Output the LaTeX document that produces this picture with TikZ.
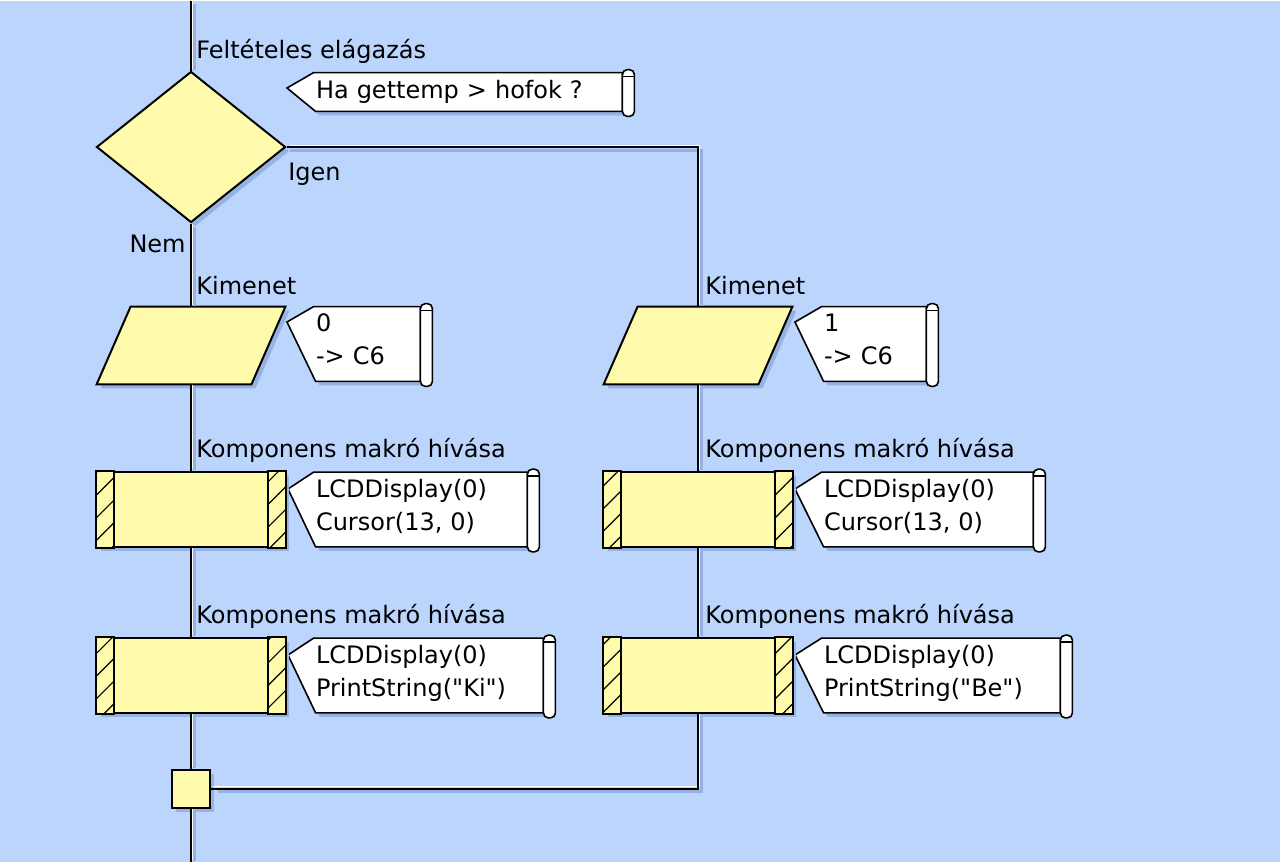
\documentclass[tikz,border=0pt]{standalone}
\usepackage{fontspec}
\setmainfont{DejaVu Sans}[Ligatures=TeXOff]
\usetikzlibrary{shapes.geometric, shadows, patterns.meta}

\definecolor{bgblue}{RGB}{187,213,253}
\definecolor{shadeblue}{RGB}{150,178,228}
\definecolor{boxyellow}{RGB}{255,250,172}

\pgfdeclarelayer{back}
\pgfdeclarelayer{mid}
\pgfsetlayers{back,mid,main}

\begin{document}
\begin{tikzpicture}[x=0.5pt, y=-0.5pt,
    every node/.style={font=\fontsize{12}{16.5}\selectfont, inner sep=0pt},
    shade/.style={drop shadow={shadow xshift=2pt, shadow yshift=-2pt, fill=shadeblue, opacity=1}},
    flowbox/.style={draw, line width=1pt, fill=boxyellow, shade},
    outbox/.style={rectangle, minimum width=77pt, minimum height=38.5pt},
    macbox/.style={flowbox, rectangle, minimum width=94pt, minimum height=37.5pt},
    hatch/.style={draw, line width=1pt, pattern={Lines[angle=45, distance=8pt, line width=0.6pt]},
        preaction={fill=boxyellow}},
    memo/.style={text width=#1, align=left, inner xsep=2pt, minimum height=37pt,
        execute at end node={\rule[-4.5pt]{0pt}{0pt}}},
    wire/.style={line width=1pt,
        preaction={draw=shadeblue, line width=1.5pt, shorten >=1.8pt, transform canvas={shift={(1.5pt,-1.5pt)}}},
        preaction={draw=white, line width=0.6pt, shorten <=1pt, transform canvas={shift={(0.9pt,0.9pt)}}}}]

        % Background
        \begin{pgfonlayer}{back}
          \fill[bgblue] (0,0) rectangle (1280,861);
        \end{pgfonlayer}

        % Decision
        \coordinate (top) at (191,0);
        \coordinate (bot) at (191,861);
        \node[flowbox, diamond, minimum width=94.5pt, minimum height=75.5pt] (dia) at (191,146) {};

        % Left branch (Nem)
        \node[outbox] (out1) at (191,344.5) {};
        \node[macbox] (mac1) at (191,508.5) {};
        \node[macbox] (mac2) at (191,674.5) {};

        % Right branch (Igen)
        \node[outbox] (out2) at (698,344.5) {};
        \node[macbox] (mac3) at (698,508.5) {};
        \node[macbox] (mac4) at (698,674.5) {};

        % Junction
        \node[flowbox, rectangle, minimum size=19pt] (jn) at (191,787.5) {};

        % Slanted outline of the output boxes
        \foreach \o in {out1,out2}
        {
          \draw[flowbox] ([xshift=-8.5pt]\o.south west) -- ([xshift=-8.5pt]\o.south east)
            -- ([xshift=8.5pt]\o.north east) -- ([xshift=8.5pt]\o.north west) -- cycle;
        }

        % Hatched side bars of the macro boxes
        \foreach \m in {mac1,mac2,mac3,mac4}
        {
          \draw[hatch] (\m.north west) rectangle ([xshift=9pt]\m.south west);
          \draw[hatch] (\m.north east) rectangle ([xshift=-9pt]\m.south east);
        }

        % Labels
        \node[anchor=west] (lbl-dia) at (196,50) {Feltételes elágazás};
        \node[anchor=west] (lbl-igen) at (288,173) {Igen};
        \node[anchor=east] (lbl-nem) at (186,243) {Nem};
        \node[anchor=west] (lbl-out1) at (196,285) {Kimenet};
        \node[anchor=west] (lbl-out2) at (705,285) {Kimenet};
        \node[anchor=west] (lbl-mac1) at (196,449) {Komponens makró hívása};
        \node[anchor=west] (lbl-mac2) at (196,615) {Komponens makró hívása};
        \node[anchor=west] (lbl-mac3) at (705,449) {Komponens makró hívása};
        \node[anchor=west] (lbl-mac4) at (705,615) {Komponens makró hívása};

        % Comment texts
        \node[text width=151pt, align=left, inner xsep=2pt, minimum height=19pt] (ch) at (467,91) {Ha gettemp > hofok ?};
        \node[memo=50pt] (c0) at (366,343) {0\\-> C6};
        \node[memo=49pt] (c1) at (873,343) {1\\-> C6};
        \node[memo=103.5pt] (cc1) at (419.5,508.5) {LCDDisplay(0)\\Cursor(13, 0)};
        \node[memo=111.5pt] (cp1) at (427.5,674.5) {LCDDisplay(0)\\PrintString("Ki")};
        \node[memo=102.5pt] (cc2) at (926.5,508.5) {LCDDisplay(0)\\Cursor(13, 0)};
        \node[memo=116pt] (cp2) at (940,674.5) {LCDDisplay(0)\\PrintString("Be")};

        % Comment pointers
        \coordinate (ch-tip) at (287,87);
        \coordinate (c0-tip) at (287,321);
        \coordinate (c1-tip) at (795,321);
        \coordinate (cc1-tip) at (288,488);
        \coordinate (cp1-tip) at (288,654);
        \coordinate (cc2-tip) at (795,488);
        \coordinate (cp2-tip) at (795,654);

        % Comment frames with scroll ends
        \begin{pgfonlayer}{mid}
          \foreach \c in {ch,c0,c1,cc1,cp1,cc2,cp2}
          {
            \draw[line width=0.8pt, fill=white, shade] (\c-tip) -- ([xshift=1pt]\c.north west) -- (\c.north east)
              -- (\c.south east) -- ([xshift=2pt]\c.south west) -- cycle;
            \draw[line width=0.8pt, fill=white, rounded corners=2.5pt]
              ([yshift=1.5pt]\c.north east) rectangle ([xshift=6pt, yshift=-2.5pt]\c.south east);
            \draw[line width=0.8pt] ([yshift=-2pt]\c.north east) -- ([xshift=6pt, yshift=-2pt]\c.north east);
          }
        \end{pgfonlayer}

        % Connectors
        \draw[wire] (top) -- (dia.north);
        \draw[wire] (dia.south) -- (out1.north);
        \draw[wire] (out1.south) -- (mac1.north);
        \draw[wire] (mac1.south) -- (mac2.north);
        \draw[wire] (mac2.south) -- (jn.north);
        \draw[wire] (jn.south) -- (bot);
        \draw[wire] (dia.east) -| (out2.north);
        \draw[wire] (out2.south) -- (mac3.north);
        \draw[wire] (mac3.south) -- (mac4.north);
        \draw[wire] (mac4.south) |- (jn.east);
\end{tikzpicture}
\end{document}
